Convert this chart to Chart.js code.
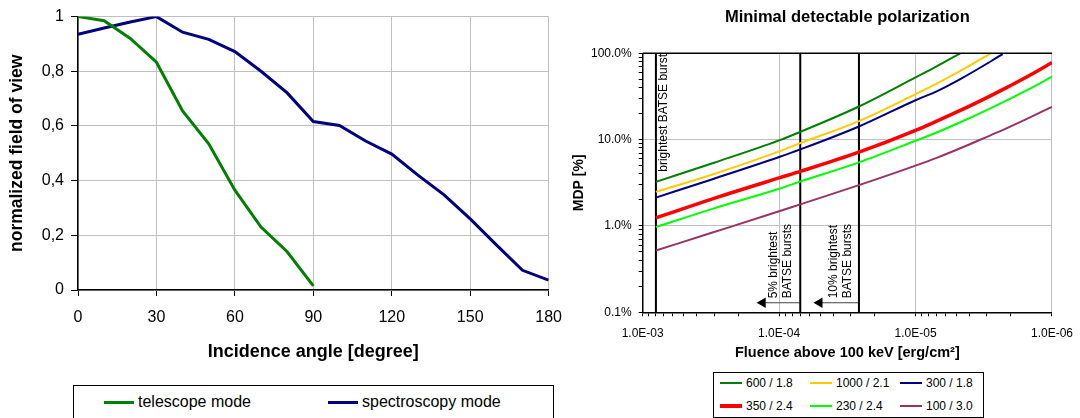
<!DOCTYPE html>
<html>
<head>
<meta charset="utf-8">
<script src="https://cdn.jsdelivr.net/npm/chart.js@4.4.1/dist/chart.umd.min.js"></script>
<style>
  body { margin: 0; background: #fff; width: 1080px; height: 418px; overflow: hidden; position: relative;
         font-family: "Liberation Sans", Arial, sans-serif; }
  #left { position: absolute; left: 0; top: 0; }
  #right { position: absolute; left: 560px; top: 0; }
  .legend { position: absolute; border: 1px solid #000; background: #fff; box-sizing: border-box; }
  #legendLeft { left: 73px; top: 385px; width: 481px; height: 42px; font-size: 16px; }
  #legendRight { left: 713px; top: 372px; width: 271px; height: 46px; font-size: 12px; }
  .item { position: absolute; display: flex; align-items: center; height: 18px; color: #000; white-space: nowrap; }
  .swatch { display: inline-block; margin-right: 4px; }
</style>
</head>
<body>
<canvas id="left" width="574" height="380"></canvas>
<canvas id="right" width="523" height="365"></canvas>
<div id="legendLeft" class="legend"></div>
<div id="legendRight" class="legend"></div>
<script>
/* ================= DATA ================= */

// left chart: field of view vs incidence angle
const angles = [0, 10, 20, 30, 40, 50, 60, 70, 80, 90, 100, 110, 120, 130, 140, 150, 160, 170, 180];
const telescope = [1, 0.985, 0.92, 0.833, 0.655, 0.535, 0.365, 0.23, 0.14, 0.015];
const spectroscopy = [0.935, 0.958, 0.98, 1.0, 0.943, 0.917, 0.872, 0.80, 0.721, 0.616,
                      0.602, 0.545, 0.497, 0.42, 0.348, 0.26, 0.165, 0.072, 0.036];
const leftNames = ["telescope mode", "spectroscopy mode"];
const leftYTicks = ["0", "0,2", "0,4", "0,6", "0,8", "1"];

// right chart: MDP [%] vs fluence
const fluence = [8e-4, 3e-4, 1e-4, 7e-5, 2.6e-5, 1e-5, 7e-6, 4.7e-6, 2.8e-6, 2.3e-6, 1.5e-6, 1e-6];
const mdp600 = [3.24, 5.4, 9.8, 12.3, 24.2, 52.6, 70.5, 100];
const mdp1000 = [2.48, 4.0, 7.3, 9.1, 16.4, 33.6, 44.5, 62.4, 100];
const mdp300 = [2.13, 3.53, 6.3, 7.7, 14.2, 28.6, 36.3, 50.3, 80.9, 98];
const mdp350 = [1.24, 2.09, 3.6, 4.28, 7.15, 12.8, 16.4, 21.8, 32.4, 37.9, 54.2, 78];
const mdp230 = [0.97, 1.6, 2.7, 3.27, 5.45, 9.7, 12.1, 15.9, 23.2, 27.0, 38.0, 53.6];
const mdp100 = [0.52, 0.85, 1.48, 1.78, 2.97, 5.0, 6.15, 7.94, 11.3, 12.9, 17.6, 24.0];
const rightNames = ["600 / 1.8", "1000 / 2.1", "300 / 1.8", "350 / 2.4", "230 / 2.4", "100 / 3.0"];
const xTickLabels = ["1.0E-03", "1.0E-04", "1.0E-05", "1.0E-06"];
const yTickLabels = ["0.1%", "1.0%", "10.0%", "100.0%"];

// BATSE marker lines and their arrows
const batseFluence = [8e-4, 7e-5, 2.6e-5];
const arrowFrom = [1.32e-4, 5.06e-5];
const arrowLevel = 0.129;
const batseNotes = [["brightest BATSE burst"], ["5% brightest", "BATSE bursts"], ["10% brightest", "BATSE bursts"]];

/* ================= HELPERS ================= */

const FONT = '"Liberation Sans", Arial, sans-serif';
Chart.defaults.font.family = FONT;
Chart.defaults.color = "#000";

function pairs(xs, ys) {
  return ys.map((y, i) => ({ x: xs[i], y: y })).filter(p => p.y !== null && p.y !== undefined);
}
function isDecade(v) {
  const l = Math.log10(v);
  return Math.abs(l - Math.round(l)) < 1e-6;
}
function keepIntegerSignificands(scale) {
  scale.ticks = scale.ticks.filter(t => {
    const m = t.value / Math.pow(10, Math.floor(Math.log10(t.value) + 1e-9));
    return Math.abs(m - Math.round(m)) < 1e-6;
  });
}

/* ================= LEFT CHART ================= */

const leftColors = ["#008000", "#000080"];

new Chart(document.getElementById("left"), {
  type: "line",
  data: {
    datasets: [
      { label: leftNames[0], data: pairs(angles, telescope), borderColor: leftColors[0], borderWidth: 3, pointRadius: 0, tension: 0 },
      { label: leftNames[1], data: pairs(angles, spectroscopy), borderColor: leftColors[1], borderWidth: 3, pointRadius: 0, tension: 0 }
    ]
  },
  options: {
    responsive: false,
    animation: false,
    layout: { padding: { left: 0, right: 0, top: 15, bottom: 0 } },
    plugins: { legend: { display: false }, tooltip: { enabled: false } },
    scales: {
      x: {
        type: "linear", min: 0, max: 180,
        ticks: { stepSize: 30, font: { size: 16 }, padding: 12 },
        grid: { color: "#c0c0c0", tickColor: "#000", tickLength: 6 },
        border: { color: "#000", width: 1.5 },
        title: { display: true, text: "Incidence angle [degree]", font: { size: 18, weight: "bold" }, padding: { top: 0, bottom: 17 } },
        afterFit: s => { s.height = 90; }
      },
      y: {
        type: "linear", min: 0, max: 1,
        ticks: { stepSize: 0.2, font: { size: 16 }, padding: 7, callback: (v, i) => leftYTicks[i] },
        grid: { color: "#c0c0c0", tickColor: "#000", tickLength: 7 },
        border: { color: "#000", width: 1.5 },
        title: { display: true, text: "normalized field of view", font: { size: 17.5, weight: "bold" }, padding: { top: 7, bottom: 0 } },
        afterFit: s => { s.width = 78; }
      }
    }
  }
});

/* ================= RIGHT CHART ================= */

const rightColors = ["#008000", "#FFCC00", "#000080", "#FF0000", "#00FF00", "#993366"];
const rightWidths = [2, 2, 2, 3.5, 2, 2];
const rightSeries = [mdp600, mdp1000, mdp300, mdp350, mdp230, mdp100];

const datasets = rightSeries.map((vals, i) => ({
  label: rightNames[i],
  data: pairs(fluence, vals),
  borderColor: rightColors[i],
  borderWidth: rightWidths[i],
  pointRadius: 0,
  cubicInterpolationMode: "monotone"
}));

batseFluence.forEach(f => {
  datasets.push({ label: "", data: [{ x: f, y: 0.1 }, { x: f, y: 100 }], borderColor: "#000", borderWidth: 2, pointRadius: 0 });
});
arrowFrom.forEach((f, i) => {
  datasets.push({
    label: "",
    data: [{ x: f, y: arrowLevel }, { x: batseFluence[i + 1], y: arrowLevel }],
    borderColor: "#444", borderWidth: 1,
    pointRadius: [6, 0], pointStyle: "triangle", rotation: -90,
    pointBackgroundColor: "#000", pointBorderWidth: 0
  });
});

// vertical notes next to the BATSE lines, plus the top frame edge
const notesPlugin = {
  id: "notes",
  afterDatasetsDraw(chart) {
    const { ctx, chartArea, scales: { x, y } } = chart;
    ctx.save();
    ctx.strokeStyle = "#000";
    ctx.lineWidth = 1.5;
    ctx.beginPath();
    ctx.moveTo(chartArea.left, chartArea.top);
    ctx.lineTo(chartArea.right, chartArea.top);
    ctx.stroke();

    const offsets = [[7.5], [-27, -13], [-25.5, -11]];
    const starts = [4.25, 0.145, 0.145];
    ctx.fillStyle = "#000";
    ctx.font = "12px " + FONT;
    ctx.textAlign = "left";
    ctx.textBaseline = "middle";
    batseNotes.forEach((lines, n) => {
      lines.forEach((line, k) => {
        const px = x.getPixelForValue(batseFluence[n]) + offsets[n][k];
        const py = y.getPixelForValue(starts[n]);
        ctx.save();
        ctx.translate(px, py);
        ctx.rotate(-Math.PI / 2);
        ctx.fillText(line, 0, 0);
        ctx.restore();
      });
    });
    ctx.restore();
  }
};

new Chart(document.getElementById("right"), {
  type: "line",
  data: { datasets: datasets },
  options: {
    responsive: false,
    animation: false,
    layout: { padding: { left: 0, right: 0, top: 0, bottom: 0 } },
    plugins: {
      legend: { display: false },
      tooltip: { enabled: false },
      title: {
        display: true, text: "Minimal detectable polarization", fullSize: false,
        font: { size: 16.5, weight: "bold" }, padding: { top: 8, bottom: 25.5 }
      }
    },
    scales: {
      x: {
        type: "logarithmic", min: 1e-6, max: 1e-3, reverse: true,
        afterBuildTicks: keepIntegerSignificands,
        ticks: {
          autoSkip: false, maxRotation: 0, font: { size: 12 }, padding: 10,
          callback: v => isDecade(v) ? xTickLabels[-3 - Math.round(Math.log10(v))] : ""
        },
        grid: {
          color: c => (c.tick && isDecade(c.tick.value)) ? "#c0c0c0" : "rgba(0,0,0,0)",
          tickColor: "#000", tickLength: 4
        },
        border: { color: "#000", width: 1.5 },
        title: { display: true, text: "Fluence above 100 keV [erg/cm²]", font: { size: 14.5, weight: "bold" }, padding: { top: 0, bottom: 3.6 } },
        afterFit: s => { s.height = 52.7; }
      },
      y: {
        type: "logarithmic", min: 0.1, max: 100,
        afterBuildTicks: keepIntegerSignificands,
        ticks: {
          autoSkip: false, font: { size: 12 }, padding: 7,
          callback: v => isDecade(v) ? yTickLabels[Math.round(Math.log10(v)) + 1] : ""
        },
        grid: {
          color: c => (c.tick && isDecade(c.tick.value)) ? "#c0c0c0" : "rgba(0,0,0,0)",
          tickColor: "#000", tickLength: 4
        },
        border: { color: "#000", width: 1.5 },
        title: { display: true, text: "MDP [%]", font: { size: 14, weight: "bold" }, padding: { top: 10.6, bottom: 0 } },
        afterFit: s => { s.width = 82.7; }
      }
    }
  },
  plugins: [notesPlugin]
});

/* ================= LEGENDS ================= */

function addItem(box, left, top, color, width, thick, text) {
  const item = document.createElement("div");
  item.className = "item";
  item.style.left = left + "px";
  item.style.top = top + "px";
  const sw = document.createElement("span");
  sw.className = "swatch";
  sw.style.width = width + "px";
  sw.style.height = thick + "px";
  sw.style.background = color;
  item.appendChild(sw);
  item.appendChild(document.createTextNode(text));
  box.appendChild(item);
}

const legendLeft = document.getElementById("legendLeft");
[30, 254].forEach((left, i) => addItem(legendLeft, left, 7, leftColors[i], 30, 3, leftNames[i]));

const legendRight = document.getElementById("legendRight");
const colLeft = [6, 96, 186];
const rowTop = [1, 24];
rightNames.forEach((name, i) => {
  addItem(legendRight, colLeft[i % 3], rowTop[Math.floor(i / 3)], rightColors[i], 22, i === 3 ? 4 : 2, name);
});
</script>
</body>
</html>
